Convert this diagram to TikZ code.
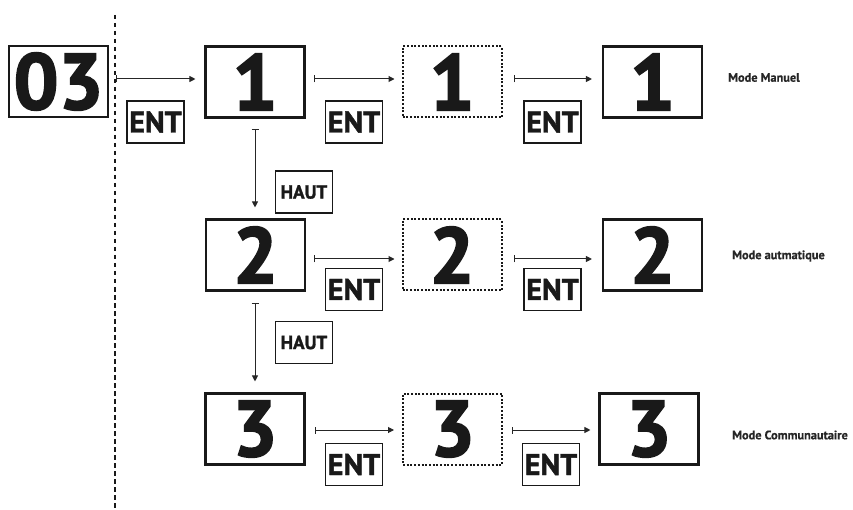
\documentclass[tikz,border=0pt]{standalone}
\usepackage{fontspec}
\setmainfont{PT Sans}
\newfontfamily\heavyfont[FakeBold=2.5]{PT Sans Bold}
\newfontfamily\keyfont[FakeBold=1.6]{PT Sans Bold}
\newfontfamily\lblfont[FakeBold=0.6]{PT Sans Bold}
\usetikzlibrary{arrows.meta}
\tikzset{
  box/.style={draw=black!90, line width=2.1pt, minimum width=99pt, minimum height=71pt, inner sep=0pt,
    font=\heavyfont\fontsize{79}{79}\selectfont, text=black!90},
  dbox/.style={box, line width=2pt, dash pattern=on 2pt off 1.7pt},
  key/.style={draw=black!90, line width=1.7pt, minimum width=57pt, minimum height=42pt, inner sep=0pt,
    font=\keyfont\fontsize{30}{30}\selectfont, text=black!90},
  hkey/.style={key, font=\keyfont\fontsize{19}{19}\selectfont},
  flow/.style={line width=1pt, draw=black!85, {Bar[width=7pt]}-{Triangle[length=6pt,width=6pt]}},
  lbl/.style={anchor=west, inner sep=0pt, font=\lblfont\fontsize{12.3}{13}\selectfont, text=black!85},
  sep/.style={line width=1.8pt, dash pattern=on 4.5pt off 3.5pt, draw=black!90}
}
\begin{document}
\begin{tikzpicture}[x=1pt,y=-1pt]
\useasboundingbox (0,0) rectangle (853,510);
\coordinate (st) at (115,15);
\coordinate (sb) at (115,510);
\draw[sep] (st) -- (sb);

\node[box] (b03) at (58.5,81.5) {03};
\node[box] (b1a) at (255,82) {1};
\node[dbox] (b1b) at (452,82) {1};
\node[box] (b1c) at (652.5,82) {1};
\node[box] (b2a) at (255.5,255) {2};
\node[dbox] (b2b) at (452,255) {2};
\node[box] (b2c) at (652.5,255) {2};
\node[box] (b3a) at (255,429) {3};
\node[dbox] (b3b) at (452.5,429) {3};
\node[box] (b3c) at (649,429) {3};

\node[key] (e0) at (155.5,122) {ENT};
\node[key] (e1a) at (354,122) {ENT};
\node[key] (e1b) at (552.5,122) {ENT};
\node[key] (e2a) at (354,289.5) {ENT};
\node[key] (e2b) at (552.5,289.5) {ENT};
\node[key] (e3a) at (354,464.5) {ENT};
\node[key] (e3b) at (551,464.5) {ENT};
\node[hkey] (h1) at (304,192) {HAUT};
\node[hkey] (h2) at (304,342.5) {HAUT};

\node[lbl] (m1) at (728,77.5) {Mode Manuel};
\node[lbl] (m2) at (732,256) {Mode autmatique};
\node[lbl] (m3) at (732,435) {Mode Communautaire};

\draw[flow] ([xshift=7pt,yshift=2.5pt]b03.east) -- ([xshift=-9pt,yshift=3pt]b1a.west);
\draw[flow] ([xshift=8pt,yshift=3pt]b1a.east) -- ([xshift=-7pt,yshift=3pt]b1b.west);
\draw[flow] ([xshift=11pt,yshift=3pt]b1b.east) -- ([xshift=-10pt,yshift=3pt]b1c.west);
\draw[flow] ([xshift=8pt,yshift=-4pt]b2a.east) -- ([xshift=-7pt,yshift=-4pt]b2b.west);
\draw[flow] ([xshift=11pt,yshift=-4pt]b2b.east) -- ([xshift=-10pt,yshift=-4pt]b2c.west);
\draw[flow] ([xshift=9pt,yshift=-1pt]b3a.east) -- ([xshift=-8pt,yshift=-1pt]b3b.west);
\draw[flow] ([xshift=9pt,yshift=-1pt]b3b.east) -- ([xshift=-8pt,yshift=-1pt]b3c.west);
\draw[flow] ([yshift=-10pt]b1a.south) -- ([yshift=11pt]b2a.north -| b1a.south);
\draw[flow] ([yshift=-11pt]b2a.south -| b1a.south) -- ([yshift=11pt]b3a.north);
\end{tikzpicture}
\end{document}
